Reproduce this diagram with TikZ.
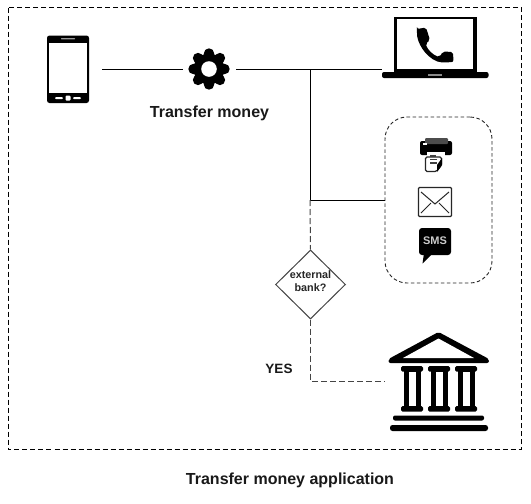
\documentclass[tikz,border=0pt]{standalone}
\usepackage{fontspec}
\setmainfont{Liberation Sans}
\usetikzlibrary{shapes.geometric}
\definecolor{dashgray}{HTML}{444444}
\tikzset{
  x=1pt,y=-1pt,
  wire/.style={line width=1pt,black},
  dashwire/.style={line width=1pt,dashgray,dash pattern=on 6pt off 3pt},
  frame/.style={draw=black,line width=1pt,dash pattern=on 5pt off 3pt},
  label/.style={font=\bfseries\fontsize{16}{18}\selectfont,inner sep=0pt,text=black!90},
  smalllabel/.style={font=\bfseries\fontsize{10.8}{13}\selectfont,inner sep=0pt,align=center,text=black!85},
  ink/.style={fill=black,draw=none},
  anchorbox/.style={inner sep=0pt,minimum width=0pt,minimum height=0pt},
}
\begin{document}
\begin{tikzpicture}
\useasboundingbox (0,0) rectangle (531,504);
\fill[white] (0,0) rectangle (531,504);
% outer frame
\draw[frame] (8,7.5) rectangle (521.5,449);

% phone
\fill[ink,rounded corners=2.5pt] (47,35.5) rectangle (89,103);
\fill[white] (49.3,43) rectangle (87,93);
\fill[white!60!black,rounded corners=.5pt] (61,38) rectangle (75,39.4);
\fill[white,rounded corners=1pt] (55,97) rectangle (63,99);
\fill[white,rounded corners=1pt] (65.5,95.5) rectangle (70.5,100.5);
\fill[white,rounded corners=1pt] (73,97) rectangle (81,99);
\node[anchorbox] (phone) at (102,69) {};

% gear
\node[anchorbox] (gear) at (209,69) {};
\foreach \a in {0,45,...,315}{
  \fill[ink] (gear) ++(\a:15.5) circle[radius=5.2];
}
\fill[ink] (gear) circle[radius=15.5];
\fill[white] (gear) circle[radius=7.8];
\node[anchorbox] (gearL) at (183,69) {};
\node[anchorbox] (gearR) at (236,69) {};
\node[label] (gearlabel) at (209.5,113.5) {Transfer money};

% laptop
\fill[ink] (393.5,17) rectangle (477,73);
\fill[white] (396.8,19.3) rectangle (473.4,69.3);
\fill[ink,rounded corners=2pt] (382,72) rectangle (488.5,78);
\fill[white!55!black] (428,73.8) rectangle (442,76);
\node[anchorbox] (laptop) at (382,69) {};
% handset
\fill[ink,rounded corners=2pt] (417,29) -- (426,27.5) -- (430,40) -- (425.5,44)
  .. controls (428,50) and (433,55) .. (439.5,57)
  -- (443,51.5) -- (453,52) -- (453.5,62) -- (444,62.5)
  .. controls (430,62) and (416,45) .. (417,29) -- cycle;

% devices group
\node[anchorbox,draw=black!85,line width=.9pt,dash pattern=on 3.5pt off 2.5pt,rounded corners=22pt,minimum width=107pt,minimum height=166pt] (group) at (438.5,200) {};

% printer
\fill[ink,rounded corners=2pt] (420,141) rectangle (452,155);
\fill[black!70,rounded corners=1pt] (425,138) rectangle (448,144);
\fill[white] (423,143) rectangle (427,144.5);
\fill[white] (427,151.5) rectangle (445,155.5);
\draw[black!85,line width=1.3pt,fill=white,rounded corners=1.5pt] (425.5,171.5) -- (425.5,157) -- (441.5,157) -- (441.5,165) -- (436.5,171.5) -- cycle;
\fill[black!75] (430,155) rectangle (436,156.5);
\fill[black!75] (430,158.5) rectangle (437,160);
\fill[black!75] (430,162) rectangle (437,163.5);
\fill[ink] (442,158) -- (442,165) -- (437,172) -- (437,165) -- cycle;

% envelope
\draw[black!85,line width=1.1pt,rounded corners=1pt] (418.5,187.5) rectangle (451.5,216.5);
\draw[black!85,line width=1pt] (421,192) -- (435,204) -- (449,192);
\draw[black!85,line width=1pt] (421,213) -- (431,203);
\draw[black!85,line width=1pt] (449,213) -- (439,203);

% SMS
\fill[ink,rounded corners=3pt] (419,228) rectangle (451,255);
\fill[ink] (424,253) -- (422.5,263.5) -- (433,253) -- cycle;
\node[anchorbox,text=white!80!black,font=\bfseries\fontsize{11}{12}\selectfont] (sms) at (435,241) {SMS};

% junctions and diamond
\coordinate (junction) at (310,69);
\coordinate (branch) at (310,200);
\node[diamond,draw=dashgray,line width=1pt,aspect=1,inner sep=0pt,minimum width=70pt,minimum height=69pt] (bankq) at (310.5,284.5) {};
\node[smalllabel] (bankqtext) at (310.5,281.5) {external\\bank?};

% bank
\node[anchorbox] (bank) at (385,381) {};
\fill[ink,rounded corners=2pt] (438.5,332) -- (489,359) -- (489,363) -- (388.5,363) -- (388.5,359) -- cycle;
\fill[white] (438.5,338.5) -- (474,358) -- (403,358) -- cycle;
\foreach \c in {412,439,466}{
  \fill[ink,rounded corners=1.5pt] (\c-11,366) rectangle (\c+11,371.5);
  \fill[ink,rounded corners=1.5pt] (\c-11,406) rectangle (\c+11,411.5);
  \fill[ink] (\c-8.5,370) rectangle (\c+8.5,407);
  \fill[white] (\c-3.5,371.5) rectangle (\c+3.5,406);
}
\fill[ink,rounded corners=2pt] (393,415.5) rectangle (484,420.5);
\fill[ink,rounded corners=2.5pt] (390,425) rectangle (488,431);

% connectors
\draw[wire] (phone) -- (gearL);
\draw[wire] (gearR) -- (laptop);
\draw[wire] (junction) -- (branch);
\draw[wire] (branch) -- (group.west |- branch);
\draw[dashwire] (branch) -- (bankq.north);
\draw[dashwire] (bankq.south) |- (bank);

\node[label,font=\bfseries\fontsize{13.5}{15}\selectfont] (yes) at (279,369) {YES};
\node[label] (title) at (290,480) {Transfer money application};
\end{tikzpicture}
\end{document}
